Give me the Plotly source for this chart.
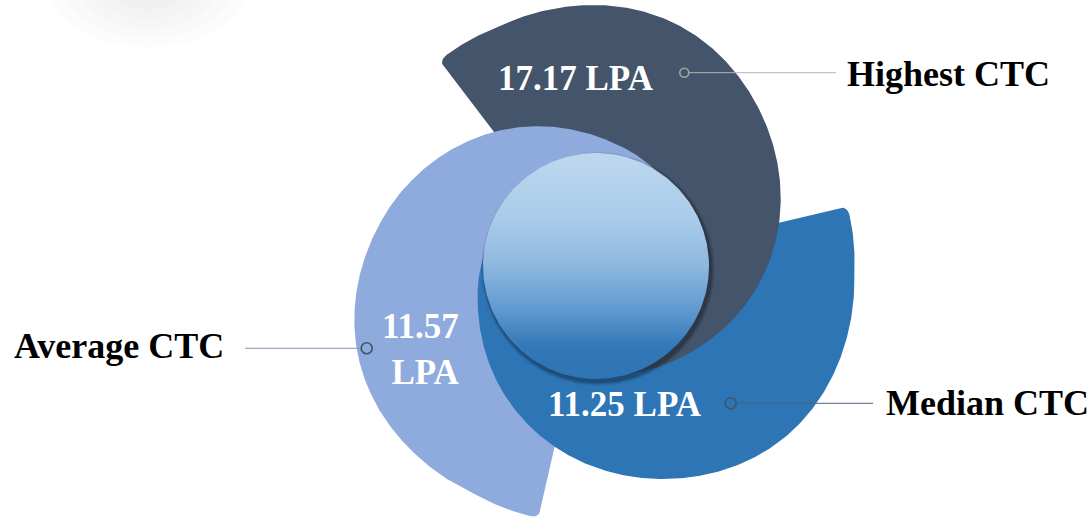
import numpy as np
import plotly.graph_objects as go

# ---------------- data ----------------
categories = ["Highest CTC", "Median CTC", "Average CTC"]
values = [17.17, 11.25, 11.57]
unit = "LPA"

# ---------------- styling / geometry ----------------
W, H = 1092, 517
FONT = "Liberation Serif, Times New Roman, serif"
colors = {"Highest CTC": "#44546A", "Median CTC": "#2E75B6", "Average CTC": "#8FAADC"}
start_angle = {"Highest CTC": 232.6, "Median CTC": 346.6, "Average CTC": 102.8}
CX, CY = 596.0, 266.0   # hub centre
HUB_R = 113.0
R_BASE, SWIRL, PEAK = 187.0, 72.0, 25.0

value_pos = {"Highest CTC": (576, 78, "center"),
             "Median CTC": (625, 404, "center"),
             "Average CTC": (462, 349, "right")}
value_break = {"Highest CTC": False, "Median CTC": False, "Average CTC": True}
cat_pos = {"Highest CTC": (845, 74), "Median CTC": (884, 403), "Average CTC": (12, 346)}
dot_pos = {"Highest CTC": (684.3, 72.7), "Median CTC": (730.7, 403.3), "Average CTC": (366.7, 348.3)}
lead_x = {"Highest CTC": (689, 836), "Median CTC": (736, 873), "Average CTC": (245, 361)}
lead_col = {"Highest CTC": "#B4B4B4", "Median CTC": "#50607A", "Average CTC": "#8497B0"}
dot_col = {"Highest CTC": "#A6A6A6", "Median CTC": "#44546A", "Average CTC": "#44546A"}
dot_size = {"Highest CTC": 9, "Median CTC": 11, "Average CTC": 11}


def outline_r(rel):
    rel = np.asarray(rel, dtype=float)
    r = R_BASE + SWIRL * np.cos(np.radians(rel - PEAK))
    r += 6 * np.exp(-((rel - 55) / 25.0) ** 2)
    r += 6 * np.clip(1 - rel / 15.0, 0, 1)
    r -= 5 * np.clip((rel - 185) / 30.0, 0, 1)
    return r


def swirl_path(start, rel0, rel1, rounded=True, rc=8.0):
    rels = np.linspace(rel0, rel1, 400)
    th = np.radians(start + rels)
    r = outline_r(rels)
    ax = CX + r * np.cos(th)
    ay = CY + r * np.sin(th)
    xs, ys = [CX], [CY]
    if rounded:
        P = np.array([ax[0], ay[0]])
        e = np.array([CX, CY]) - P
        e /= np.linalg.norm(e)
        A = P + rc * e
        seg = np.hypot(np.diff(ax), np.diff(ay))
        cum = np.concatenate([[0], np.cumsum(seg)])
        k = int(np.searchsorted(cum, rc))
        B = np.array([ax[k], ay[k]])
        for s in np.linspace(0, 1, 10):
            q = (1 - s) ** 2 * A + 2 * (1 - s) * s * P + s ** 2 * B
            xs.append(q[0]); ys.append(q[1])
        xs += list(ax[k + 1:]); ys += list(ay[k + 1:])
    else:
        xs += list(ax); ys += list(ay)
    xs.append(CX); ys.append(CY)
    return xs, ys


def ellipse(cx, cy, rx, ry, n=200):
    t = np.linspace(0, 2 * np.pi, n)
    return list(cx + rx * np.cos(t)), list(cy + ry * np.sin(t))


fig = go.Figure()


def add_fill(xs, ys, color, **kw):
    fig.add_trace(go.Scatter(x=xs, y=ys, mode="lines", fill="toself", fillcolor=color,
                             line=dict(width=0, color=color), hoverinfo="skip",
                             showlegend=False, **kw))


# faint blob top-left
for s in [1.0, 0.85, 0.7, 0.55, 0.4, 0.25]:
    ex, ey = ellipse(148, -15, 100 * s, 62 * s)
    add_fill(ex, ey, "rgba(0,0,0,0.011)")

# swirl segments (cyclic overlap: light head, blue, dark, light tail)
xs, ys = swirl_path(start_angle["Average CTC"], 0, 100, True)
add_fill(xs, ys, colors["Average CTC"])
xs, ys = swirl_path(start_angle["Median CTC"], 0, 215, True)
add_fill(xs, ys, colors["Median CTC"])
xs, ys = swirl_path(start_angle["Highest CTC"], 0, 215, True)
add_fill(xs, ys, colors["Highest CTC"])
xs, ys = swirl_path(start_angle["Average CTC"], 92, 215, False)
add_fill(xs, ys, colors["Average CTC"])

# hub shadow
for dr, a in [(4, 0.06), (3, 0.08), (2, 0.10), (1, 0.14)]:
    ex, ey = ellipse(CX + 2, CY + 3, HUB_R + dr, HUB_R + dr)
    add_fill(ex, ey, f"rgba(0,0,0,{a})")

# hub with vertical gradient
ex, ey = ellipse(CX, CY, HUB_R, HUB_R, 300)
fig.add_trace(go.Scatter(
    x=ex, y=ey, mode="lines", fill="toself", line=dict(width=0, color="#8CB7E0"),
    fillgradient=dict(type="vertical", start=CY - HUB_R, stop=CY + HUB_R,
                      colorscale=[[0, "#BDD7EE"], [0.3, "#A9CBEA"], [0.5, "#8DB8E0"],
                                  [0.7, "#5F98CE"], [0.86, "#3277B7"], [1, "#2E75B6"]]),
    hoverinfo="skip", showlegend=False))

# leader lines and dots
for c in categories:
    x0, x1 = lead_x[c]
    dy = dot_pos[c][1]
    fig.add_trace(go.Scatter(x=[x0, x1], y=[dy, dy], mode="lines",
                             line=dict(color=lead_col[c], width=1),
                             hoverinfo="skip", showlegend=False))
    fig.add_trace(go.Scatter(x=[dot_pos[c][0]], y=[dy], mode="markers",
                             marker=dict(symbol="circle-open", size=dot_size[c],
                                         color=dot_col[c],
                                         line=dict(color=dot_col[c], width=1.6)),
                             hoverinfo="skip", showlegend=False))

annotations = []
for c, v in zip(categories, values):
    sep = "<br>" if value_break[c] else " "
    x, y, al = value_pos[c]
    annotations.append(dict(x=x, y=y, xref="x", yref="y", showarrow=False,
                            text=f"<b>{v:.2f}{sep}{unit}</b>", xanchor=al, yanchor="middle",
                            align=al, font=dict(family=FONT, size=35, color="white")))
    cx_, cy_ = cat_pos[c]
    annotations.append(dict(x=cx_, y=cy_, xref="x", yref="y", showarrow=False,
                            text=f"<b>{c}</b>", xanchor="left", yanchor="middle",
                            font=dict(family=FONT, size=36, color="black")))

fig.update_layout(
    width=W, height=H, margin=dict(l=0, r=0, t=0, b=0, pad=0),
    paper_bgcolor="white", plot_bgcolor="white",
    xaxis=dict(range=[0, W], visible=False, fixedrange=True),
    yaxis=dict(range=[H, 0], visible=False, fixedrange=True),
    annotations=annotations, showlegend=False,
)
fig.write_html("out.html", config={"displayModeBar": False},
               post_script="document.body.style.margin='0px';document.body.style.overflow='hidden';")
